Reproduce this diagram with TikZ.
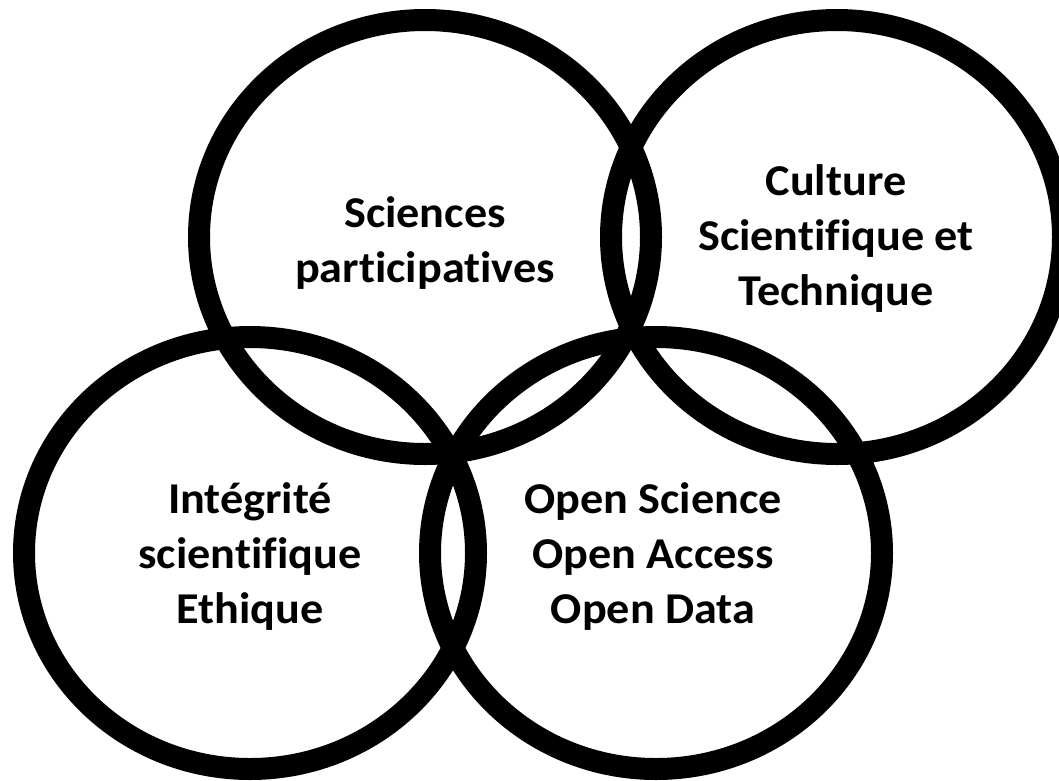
\documentclass[tikz,border=0pt]{standalone}
\usepackage{fontspec}
\setmainfont{Carlito}[FakeStretch=1.05,Ligatures=NoCommon]
\begin{document}
\begin{tikzpicture}[x=1pt,y=-1pt,
  ring/.style={draw=black, line width=22pt},
  lbl/.style={font=\bfseries\fontsize{44}{55}\selectfont, align=center, inner sep=0pt}]
\useasboundingbox (0,0) rectangle (1059,780);
\draw[ring] (425,237) ellipse [x radius=226, y radius=217];
\draw[ring] (837,237) ellipse [x radius=226, y radius=217];
\draw[ring] (250,553) ellipse [x radius=226, y radius=216];
\draw[ring] (656,553) ellipse [x radius=226, y radius=216];
\node[lbl] (sp) at (425,243) {Sciences\\participatives};
\node[lbl] (cst) at (836,239) {Culture\\Scientifique et\\Technique};
\node[lbl] (ise) at (250,557) {Intégrité\\scientifique\\Ethique};
\node[lbl] (os) at (653,557) {Open Science\\Open Access\\Open Data};
\end{tikzpicture}
\end{document}
